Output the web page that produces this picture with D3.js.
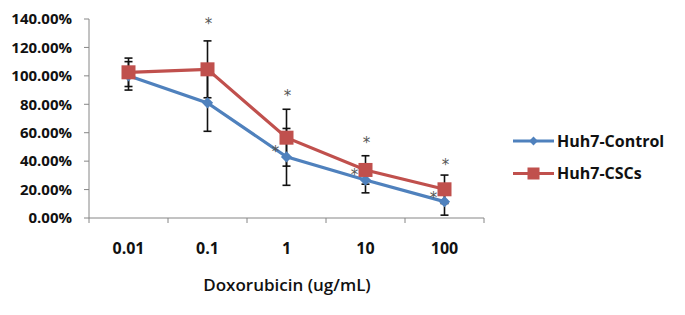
<!DOCTYPE html>
<html lang="en">
<head>
<meta charset="utf-8">
<title>Doxorubicin viability</title>
<script src="https://d3js.org/d3.v7.min.js"></script>
<style>
  body { margin: 0; background: #fff; }
  svg { width: 685px; height: 315px; display: block; }
  .tick-label { font-family: "Open Sans", sans-serif; font-weight: bold; font-size: 15px; fill: #111; }
  .xtick-label { font-family: "Open Sans", sans-serif; font-weight: bold; font-size: 16px; fill: #111; }
  .legend-label { font-family: "Open Sans", sans-serif; font-weight: bold; font-size: 16px; fill: #111; }
  .axis-title { font-family: "Open Sans", sans-serif; font-weight: 600; font-size: 17px; fill: #111; }
  .star { font-family: "DejaVu Sans", sans-serif; font-size: 15px; fill: #555; }
</style>
</head>
<body>
<svg></svg>
<script>
// categories (doxorubicin dose)
const doses = ["0.01", "0.1", "1", "10", "100"];
// series values, in %
const controlVals = [100, 81, 43, 26.7, 11.5];
const controlErr  = [10, 20, 20, 9, 9.5];
const cscVals     = [102.5, 104.6, 56.5, 33.8, 20.2];
const cscErr      = [10, 20, 20, 10, 10];
// significance marks: [dose, value]
const stars = [["0.1", 140.5], ["1", 89.4], ["10", 56.3], ["100", 41.5]];
const starsLeft = [["1", 50], ["10", 33.8], ["100", 17.8]];
const yTicks = [0, 20, 40, 60, 80, 100, 120, 140];

const svg = d3.select("svg");
const plotLeft = 89, plotRight = 484, plotTop = 19, plotBottom = 218;

const x = d3.scaleBand().domain(doses).range([plotLeft, plotRight]);
const y = d3.scaleLinear().domain([0, 140]).range([plotBottom, plotTop]);

const axisColor = "#868686";

// y axis
svg.append("line").attr("x1", plotLeft).attr("x2", plotLeft).attr("y1", plotTop).attr("y2", plotBottom)
   .attr("stroke", axisColor).attr("stroke-width", 1);
svg.selectAll(".ytick").data(yTicks).enter().append("line")
   .attr("x1", plotLeft - 5).attr("x2", plotLeft).attr("y1", d => y(d)).attr("y2", d => y(d))
   .attr("stroke", axisColor);
svg.selectAll(".ylab").data(yTicks).enter().append("text")
   .attr("class", "tick-label")
   .attr("x", 72).attr("y", d => y(d)).attr("dy", "0.35em")
   .attr("text-anchor", "end")
   .text(d => d.toFixed(2) + "%");

// x axis
svg.append("line").attr("x1", plotLeft).attr("x2", plotRight).attr("y1", plotBottom).attr("y2", plotBottom)
   .attr("stroke", axisColor);
const xEdges = doses.map(d => x(d)).concat([plotRight]);
svg.selectAll(".xtick").data(xEdges).enter().append("line")
   .attr("x1", d => d).attr("x2", d => d).attr("y1", plotBottom).attr("y2", plotBottom + 5)
   .attr("stroke", axisColor);
svg.selectAll(".xlab").data(doses).enter().append("text")
   .attr("class", "xtick-label")
   .attr("x", d => x(d) + x.bandwidth() / 2).attr("y", 248).attr("dy", "0.35em")
   .attr("text-anchor", "middle")
   .text(d => d);
svg.append("text").attr("class", "axis-title")
   .attr("x", 287).attr("y", 285).attr("dy", "0.35em").attr("text-anchor", "middle")
   .text("Doxorubicin (ug/mL)");

const cx = d => x(d) + x.bandwidth() / 2;

function errorBars(vals, errs) {
  const g = svg.append("g").attr("stroke", "#111").attr("stroke-width", 1.6);
  doses.forEach((d, i) => {
    const y1 = y(vals[i] + errs[i]), y2 = y(vals[i] - errs[i]);
    g.append("line").attr("x1", cx(d)).attr("x2", cx(d)).attr("y1", y1).attr("y2", y2);
    g.append("line").attr("x1", cx(d) - 4).attr("x2", cx(d) + 4).attr("y1", y1).attr("y2", y1);
    g.append("line").attr("x1", cx(d) - 4).attr("x2", cx(d) + 4).attr("y1", y2).attr("y2", y2);
  });
}

const line = d3.line().x((v, i) => cx(doses[i])).y(v => y(v));

const blue = "#4F81BD", red = "#C0504D";

errorBars(controlVals, controlErr);
errorBars(cscVals, cscErr);

svg.append("path").attr("d", line(controlVals)).attr("fill", "none")
   .attr("stroke", blue).attr("stroke-width", 3.2);
svg.selectAll(".dia").data(controlVals).enter().append("path")
   .attr("d", d3.symbol(d3.symbolDiamond2, 80)())
   .attr("transform", (v, i) => `translate(${cx(doses[i])},${y(v)})`)
   .attr("fill", blue);

svg.append("path").attr("d", line(cscVals)).attr("fill", "none")
   .attr("stroke", red).attr("stroke-width", 3.2);
svg.selectAll(".sq").data(cscVals).enter().append("rect")
   .attr("x", (v, i) => cx(doses[i]) - 7).attr("y", v => y(v) - 7)
   .attr("width", 14).attr("height", 14).attr("fill", red);

// asterisks
svg.selectAll(".star1").data(stars).enter().append("text")
   .attr("class", "star").attr("text-anchor", "middle")
   .attr("x", d => cx(d[0]) + 1).attr("y", d => y(d[1])).attr("dy", "0.7em")
   .text("*");
svg.selectAll(".star2").data(starsLeft).enter().append("text")
   .attr("class", "star").attr("text-anchor", "middle")
   .attr("x", d => cx(d[0]) - 11).attr("y", d => y(d[1])).attr("dy", "0.7em")
   .text("*");

// legend
const legend = [["Huh7-Control", blue, "diamond"], ["Huh7-CSCs", red, "square"]];
const lg = svg.selectAll(".leg").data(legend).enter().append("g")
   .attr("transform", (d, i) => `translate(513,${141 + i * 32.5})`);
lg.append("line").attr("x1", 0).attr("x2", 41).attr("stroke", d => d[1]).attr("stroke-width", 3.2);
lg.filter(d => d[2] === "diamond").append("path")
   .attr("d", d3.symbol(d3.symbolDiamond2, 50)())
   .attr("transform", "translate(20.5,0)").attr("fill", d => d[1]);
lg.filter(d => d[2] === "square").append("rect")
   .attr("x", 14.5).attr("y", -6).attr("width", 12).attr("height", 12).attr("fill", d => d[1]);
lg.append("text").attr("class", "legend-label")
   .attr("x", 44).attr("dy", "0.35em").text(d => d[0]);
</script>
</body>
</html>
